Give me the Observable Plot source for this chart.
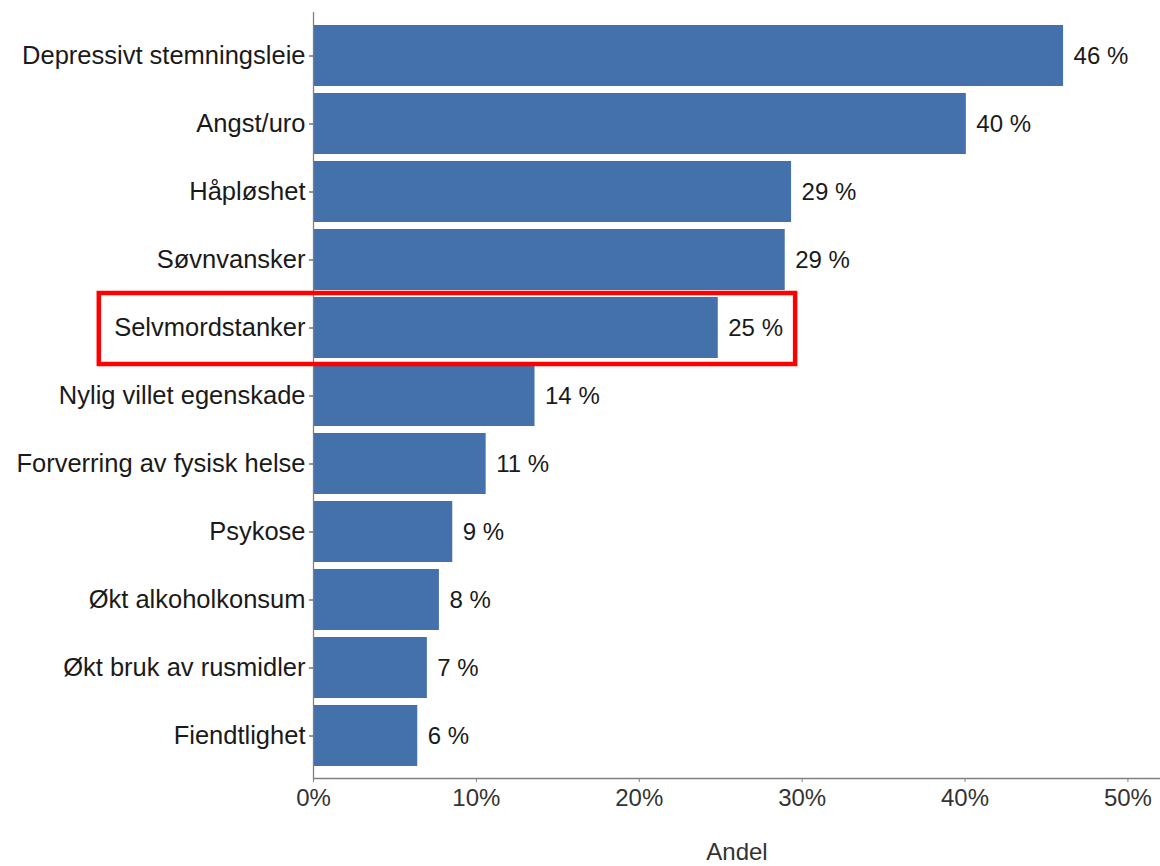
<!DOCTYPE html>
<html>
<head>
<meta charset="utf-8">
<script src="https://cdn.jsdelivr.net/npm/d3@7"></script>
<script src="https://cdn.jsdelivr.net/npm/@observablehq/plot@0.6"></script>
<style>
  html, body { margin: 0; padding: 0; background: #ffffff; }
  #chart { width: 1160px; height: 866px; }
</style>
</head>
<body>
<div id="chart"></div>
<script>
// Categories (top to bottom) and their shares in percent
const categories = [
  "Depressivt stemningsleie",
  "Angst/uro",
  "Håpløshet",
  "Søvnvansker",
  "Selvmordstanker",
  "Nylig villet egenskade",
  "Forverring av fysisk helse",
  "Psykose",
  "Økt alkoholkonsum",
  "Økt bruk av rusmidler",
  "Fiendtlighet"
];
const values = [46.05, 40.08, 29.35, 28.96, 24.85, 13.6, 10.6, 8.55, 7.73, 6.99, 6.4];
const xTicks = [0, 10, 20, 30, 40, 50];
const xLabel = "Andel";

// Highlight annotation (category and its horizontal extent in data units)
const highlightCategory = ["Selvmordstanker"];
const highlightFrom = [-13.15];
const highlightTo = [29.6];

const data = categories.map((c, i) => ({cat: c, value: values[i]}));
const highlight = highlightCategory.map((c, i) => ({cat: c, x1: highlightFrom[i], x2: highlightTo[i]}));

const FONT = "'Liberation Sans', Arial, Helvetica, sans-serif";

const chart = Plot.plot({
  width: 1160,
  height: 866,
  marginLeft: 313,
  marginRight: 0,
  marginTop: 12,
  marginBottom: 88,
  style: {fontFamily: FONT, fontSize: "24px", color: "#1a1a1a", background: "#ffffff", overflow: "visible"},
  x: {domain: [0, 52]},
  y: {domain: categories, paddingInner: 0.11, paddingOuter: 0.155},
  marks: [
    Plot.barX(data, {x: "value", y: "cat", fill: "#4470ab"}),
    Plot.text(data, {
      x: "value", y: "cat",
      text: d => Math.round(d.value) + " %",
      textAnchor: "start", dx: 10,
      fontSize: 24, fill: "#1a1a1a"
    }),
    Plot.ruleX([0], {stroke: "#808080", strokeWidth: 1.3}),
    Plot.frame({anchor: "bottom", stroke: "#808080", strokeWidth: 1.3}),
    Plot.axisY({
      tickSize: 4, tickPadding: 4, label: null,
      fontSize: 25.5, stroke: "#333333", fill: "#1a1a1a"
    }),
    Plot.axisX({
      ticks: xTicks, tickFormat: d => d + "%",
      tickSize: 4, tickPadding: 6,
      fontSize: 24, stroke: "#808080", fill: "#333333",
      label: xLabel, labelAnchor: "center", labelArrow: "none", labelOffset: 81
    }),
    Plot.barX(highlight, {
      x1: "x1", x2: "x2", y: "cat",
      fill: "none", stroke: "#ff0000", strokeWidth: 4.5,
      insetTop: -4, insetBottom: -6, clip: false
    })
  ]
});
document.getElementById("chart").appendChild(chart);
</script>
</body>
</html>
